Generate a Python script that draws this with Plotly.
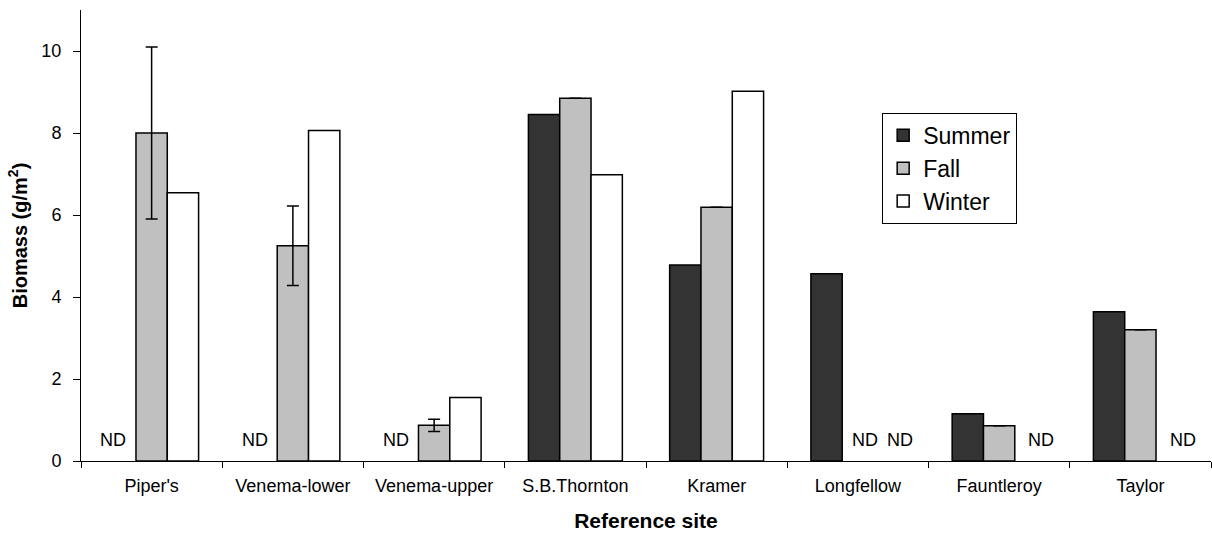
import plotly.graph_objects as go

sites = ["Piper's", "Venema-lower", "Venema-upper", "S.B.Thornton",
         "Kramer", "Longfellow", "Fauntleroy", "Taylor"]
summer = [None, None, None, 8.45, 4.78, 4.57, 1.15, 3.64]
fall = [8.0, 5.25, 0.87, 8.85, 6.19, None, 0.86, 3.20]
winter = [6.54, 8.06, 1.55, 6.98, 9.02, None, None, None]
fall_err = [2.1, 0.97, 0.15, None, None, None, None, None]

series = [
    ("Summer", summer, "#333333", None),
    ("Fall", fall, "#c0c0c0", fall_err),
    ("Winter", winter, "#ffffff", None),
]

FONT = "Arial, 'Liberation Sans', sans-serif"
BARGAP = 0.335

fig = go.Figure()
for name, vals, color, err in series:
    kw = {}
    if err is not None:
        kw["error_y"] = dict(type="data", array=err, visible=True,
                             color="#000000", thickness=1.5, width=6)
    fig.add_trace(go.Bar(
        name=name, x=sites, y=vals, legendgroup=name,
        marker=dict(color=color, line=dict(color="#000000", width=1.5)),
        **kw))

# "ND" (no data) labels at the empty bar slots
bw = (1 - BARGAP) / 3
shifts = {"Summer": -7, "Fall": 7, "Winter": 11}
for si, (name, vals, color, err) in enumerate(series):
    for ci, v in enumerate(vals):
        if v is None:
            fig.add_annotation(
                x=ci + (si - 1) * bw, y=0, xref="x", yref="y",
                text="ND", showarrow=False, yanchor="bottom", yshift=9,
                xshift=shifts[name],
                font=dict(family=FONT, size=18, color="#000000"))

fig.update_layout(
    width=1212, height=541,
    margin=dict(l=81, r=1, t=10, b=80),
    paper_bgcolor="#ffffff", plot_bgcolor="#ffffff",
    barmode="group", bargap=BARGAP, bargroupgap=0,
    font=dict(family=FONT, size=18, color="#000000"),
    showlegend=True,
    legend=dict(x=0.709, y=0.772, xanchor="left", yanchor="top",
                bgcolor="#ffffff", bordercolor="#000000", borderwidth=1,
                font=dict(family=FONT, size=23, color="#000000"),
                tracegroupgap=3, itemwidth=30, traceorder="normal"),
    xaxis=dict(
        showline=True, linecolor="#000000", linewidth=1,
        ticks="outside", tickson="boundaries", ticklen=6,
        tickcolor="#000000", tickwidth=1,
        tickfont=dict(family=FONT, size=18), ticklabelstandoff=8,
        showgrid=False, zeroline=False,
        title=dict(text="<b>Reference site</b>", standoff=18,
                   font=dict(family=FONT, size=21)),
    ),
    yaxis=dict(
        range=[0, 11], tickvals=[0, 2, 4, 6, 8, 10],
        showline=True, linecolor="#000000", linewidth=1,
        ticks="outside", ticklen=7, tickcolor="#000000", tickwidth=1,
        tickfont=dict(family=FONT, size=18), ticklabelstandoff=8,
        showgrid=False, zeroline=False,
        title=dict(text="<b>Biomass (g/m<sup>2</sup>)</b>", standoff=8,
                   font=dict(family=FONT, size=20)),
    ),
)

fig.write_html("out.html")
